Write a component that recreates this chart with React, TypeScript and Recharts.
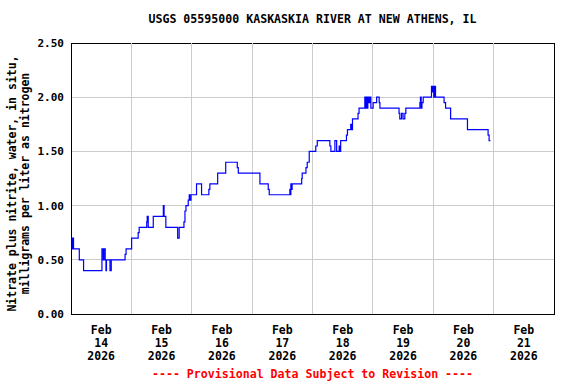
import { LineChart, Line, XAxis, YAxis, CartesianGrid, ReferenceArea, ReferenceLine } from 'recharts';

// hours since Feb 14 2026 00:00, value at each step change (mg/L as N)
const hours = [
  0.25, 0.4, 0.6, 1.0, 3.3, 5.0, 12.3, 12.8, 13.1, 13.6, 13.9, 14.1, 15.5, 16.0, 21.5, 21.9,
  24.1, 26.7, 27.1, 30.1, 30.3, 30.7, 32.7, 36.7, 37.0, 37.7, 42.4, 43.0, 44.9, 45.3, 45.7, 46.6,
  47.0, 47.2, 47.7, 49.9, 51.9, 54.8, 55.2, 58.3, 61.5, 66.1, 66.5, 75.1, 78.4, 78.8, 87.0, 87.2,
  87.4, 87.6, 87.9, 91.7, 91.9, 93.4, 93.9, 94.7, 97.3, 97.9, 102.9, 103.3, 104.9, 105.6, 106.6,
  106.9, 107.2, 109.5, 109.9, 111.2, 111.5, 111.9, 114.1, 114.5, 116.8, 117.1, 117.4, 117.8, 118.0,
  118.4, 118.8, 119.2, 120.1, 121.5, 122.5, 122.8, 130.4, 130.7, 131.4, 132.0, 132.7, 133.1, 138.7,
  138.9, 139.2, 139.5, 140.0, 143.3, 143.5, 143.8, 144.2, 144.5, 144.9, 148.3, 148.9, 150.9, 157.6,
  165.8, 166.2, 166.7,
];
const nitrate = [
  0.7, 0.6, 0.7, 0.6, 0.5, 0.4, 0.6, 0.5, 0.6, 0.5, 0.4, 0.5, 0.4, 0.5, 0.55, 0.6,
  0.7, 0.75, 0.8, 0.85, 0.9, 0.8, 0.9, 1.0, 0.9, 0.8, 0.7, 0.8, 0.85, 0.95, 1.0, 1.05,
  1.1, 1.05, 1.1, 1.2, 1.1, 1.15, 1.2, 1.3, 1.4, 1.35, 1.3, 1.2, 1.15, 1.1, 1.15, 1.1,
  1.2, 1.15, 1.2, 1.25, 1.3, 1.35, 1.4, 1.5, 1.55, 1.6, 1.55, 1.5, 1.6, 1.5, 1.55,
  1.5, 1.6, 1.65, 1.7, 1.75, 1.7, 1.8, 1.85, 1.9, 2.0, 1.9, 2.0, 1.9, 2.0,
  1.95, 2.0, 1.9, 1.95, 2.0, 1.95, 1.9, 1.85, 1.8, 1.85, 1.8, 1.85, 1.9, 1.95,
  2.0, 1.9, 1.95, 2.0, 2.1, 2.05, 2.1, 2.0, 2.1, 2.0, 1.95, 1.9, 1.8, 1.7,
  1.65, 1.6, 1.6,
];

const midnightTicks = [24, 48, 72, 96, 120, 144, 168];
const noonTicks = [12, 36, 60, 84, 108, 132, 156, 180];
const dayLabels = ['14', '15', '16', '17', '18', '19', '20', '21'];
const yTicks = [0, 0.5, 1.0, 1.5, 2.0, 2.5];

const FONT = '"DejaVu Sans Mono", monospace';

const data = hours.map((h, i) => ({ h, v: nitrate[i] }));

const DateTick = ({ x, y, payload }: any) => {
  const idx = noonTicks.indexOf(payload.value);
  return (
    <g transform={`translate(${x},${y})`}>
      <text textAnchor="middle" fontFamily={FONT} fontWeight="bold" fontSize={11.5} fill="#000">
        <tspan x={0} dy={20}>Feb</tspan>
        <tspan x={0} dy={13}>{dayLabels[idx]}</tspan>
        <tspan x={0} dy={13}>2026</tspan>
      </text>
    </g>
  );
};

const YTitle = ({ viewBox }: any) => {
  const cy = viewBox.y + viewBox.height / 2 + 5;
  const lines = ['Nitrate plus nitrite, water, in situ,', 'milligrams per liter as nitrogen'];
  return (
    <g>
      {lines.map((t, i) => {
        const cx = 12 + i * 13;
        return (
          <text
            key={i}
            x={cx}
            y={cy}
            transform={`rotate(-90, ${cx}, ${cy})`}
            textAnchor="middle"
            dominantBaseline="central"
            fontFamily={FONT}
            fontWeight="bold"
            fontSize={11.5}
            fill="#000"
          >
            {t}
          </text>
        );
      })}
    </g>
  );
};

export default function App() {
  return (
    <div style={{ position: 'absolute', left: 0, top: 0, width: 576, height: 384, background: '#fff' }}>
      <div
        style={{
          position: 'absolute', left: 71, width: 483, top: 12, lineHeight: '14px',
          textAlign: 'center', fontFamily: FONT, fontWeight: 'bold', fontSize: 11.6, color: '#000',
        }}
      >
        USGS 05595000 KASKASKIA RIVER AT NEW ATHENS, IL
      </div>
      <LineChart width={576} height={384} data={data} margin={{ top: 43, right: 22, bottom: 0, left: 0 }}>
        <CartesianGrid vertical={false} stroke="#cccccc" strokeWidth={1} shapeRendering="crispEdges" />
        <XAxis
          dataKey="h"
          type="number"
          domain={[0, 192]}
          ticks={noonTicks}
          height={70}
          tick={<DateTick />}
          tickLine={false}
          tickSize={0}
          tickMargin={0}
          axisLine={false}
          interval={0}
          allowDataOverflow
        />
        <YAxis
          type="number"
          domain={[0, 2.5]}
          ticks={yTicks}
          width={71}
          tickFormatter={(v: number) => v.toFixed(2)}
          tick={{ fontFamily: FONT, fontWeight: 'bold', fontSize: 11, fill: '#000' }}
          tickLine={false}
          tickSize={0}
          tickMargin={7}
          axisLine={false}
          interval={0}
          label={{ content: <YTitle /> }}
          allowDataOverflow
        />
        {midnightTicks.map((t) => (
          <ReferenceLine key={t} x={t} stroke="#cccccc" strokeWidth={1} shapeRendering="crispEdges" />
        ))}
        <ReferenceArea
          x1={0}
          x2={192}
          y1={0}
          y2={2.5}
          stroke="#000"
          strokeWidth={1}
          fill="none"
          fillOpacity={0}
          shapeRendering="crispEdges"
        />
        <Line
          type="stepAfter"
          dataKey="v"
          stroke="#0000ff"
          strokeWidth={1.2}
          dot={false}
          isAnimationActive={false}
        />
      </LineChart>
      <div
        style={{
          position: 'absolute', left: 71, width: 483, top: 367, lineHeight: '14px',
          textAlign: 'center', fontFamily: FONT, fontWeight: 'bold', fontSize: 11.6, color: '#ff0000',
        }}
      >
        ---- Provisional Data Subject to Revision ----
      </div>
    </div>
  );
}
